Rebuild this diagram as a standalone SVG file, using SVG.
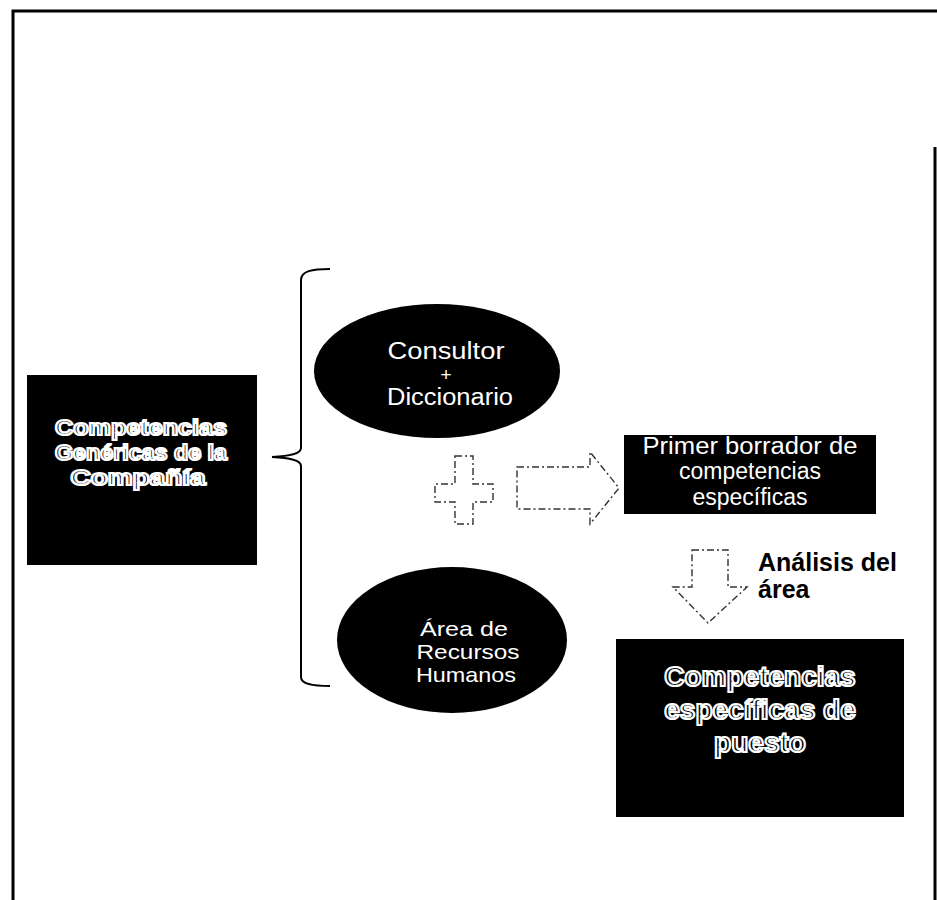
<svg xmlns="http://www.w3.org/2000/svg" width="937" height="900" viewBox="0 0 937 900">
  <style>
    .frame { fill: none; stroke: #000; stroke-width: 3; }
    .dark { fill: #000; }
    .plain { font-family: "Liberation Sans", Arial, sans-serif; fill: #fff; text-anchor: middle; }
    .outlined { font-family: "Liberation Sans", Arial, sans-serif; font-weight: bold; fill: #000; stroke: #fff; stroke-width: 2.2; text-anchor: middle; }
    .label { font-family: "Liberation Sans", Arial, sans-serif; font-weight: bold; fill: #000; }
    .dashed { fill: #fff; stroke: #333; stroke-width: 1.4; stroke-dasharray: 7 3 2 3; }
    .brace { fill: none; stroke: #000; stroke-width: 2; }
  </style>

  <!-- page frame -->
  <path class="frame" d="M13,900 V11 H937"/>
  <path class="frame" d="M935,147 V900" stroke-width="2"/>

  <g id="generic">
    <rect class="dark" x="27" y="375" width="230" height="190"/>
    <text class="outlined" font-size="22" x="141" y="435" textLength="172" lengthAdjust="spacingAndGlyphs">Competencias</text>
    <text class="outlined" font-size="22" x="141" y="460" textLength="172" lengthAdjust="spacingAndGlyphs">Genéricas de la</text>
    <text class="outlined" font-size="22" x="138" y="485" textLength="135" lengthAdjust="spacingAndGlyphs">Compañía</text>
  </g>

  <g id="consultor">
    <ellipse class="dark" cx="437" cy="371" rx="123" ry="67"/>
    <text class="plain" font-size="23" x="446" y="359" textLength="117" lengthAdjust="spacingAndGlyphs">Consultor</text>
    <text class="plain" font-size="19" x="446" y="381">+</text>
    <text class="plain" font-size="23" x="450" y="405" textLength="126" lengthAdjust="spacingAndGlyphs">Diccionario</text>
  </g>

  <g id="rrhh">
    <ellipse class="dark" cx="452" cy="640" rx="115" ry="73"/>
    <text class="plain" font-size="21" x="464" y="636" textLength="88" lengthAdjust="spacingAndGlyphs">Área de</text>
    <text class="plain" font-size="21" x="468" y="659" textLength="103" lengthAdjust="spacingAndGlyphs">Recursos</text>
    <text class="plain" font-size="21" x="466" y="682" textLength="100" lengthAdjust="spacingAndGlyphs">Humanos</text>
  </g>

  <g id="plus">
    <path class="dashed" d="M455,456 H473 V484 H493 V502 H473 V524 H455 V502 H435 V484 H455 Z"/>
  </g>

  <g id="borrador">
    <rect class="dark" x="624" y="435" width="252" height="79"/>
    <text class="plain" font-size="23" x="750" y="454" textLength="215" lengthAdjust="spacingAndGlyphs">Primer borrador de</text>
    <text class="plain" font-size="23" x="750" y="479">competencias</text>
    <text class="plain" font-size="23" x="750" y="505">específicas</text>
  </g>

  <g id="puesto">
    <rect class="dark" x="616" y="639" width="288" height="178"/>
    <text class="outlined" font-size="28" x="760" y="686">Competencias</text>
    <text class="outlined" font-size="28" x="760" y="719">específicas de</text>
    <text class="outlined" font-size="28" x="760" y="752">puesto</text>
  </g>

  <g id="connectors">
    <path class="brace" d="M330,269 C312,269 301,271 301,280 V448 C301,454 290,456 272,457 C290,458 301,460 301,466 V677 C301,684 312,686 330,686"/>
    <path class="dashed" d="M517,467 H590 V452 L619,488 L590,524 V509 H517 Z"/>
    <path class="dashed" d="M692,550 H728 V587 H747 L708,623 L673,587 H692 Z"/>
    <text class="label" font-size="25" x="758" y="571">Análisis del</text>
    <text class="label" font-size="25" x="758" y="598">área</text>
  </g>
</svg>
